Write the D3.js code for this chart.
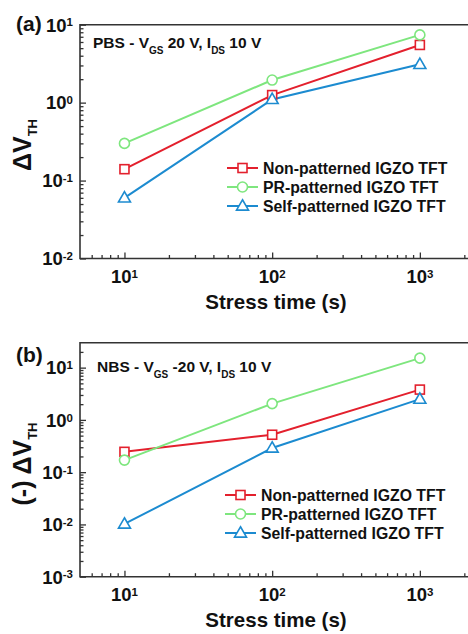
<!DOCTYPE html>
<html><head><meta charset="utf-8">
<script src="https://cdn.jsdelivr.net/npm/d3@7"></script>
<style>
html,body{margin:0;padding:0;background:#fff;}
svg{display:block;font-family:"Liberation Sans",Arial,sans-serif;font-weight:bold;}
</style></head>
<body>
<svg id="c" width="468" height="634"></svg>
<script>
const times = [10, 100, 1000];
const seriesNames = ["Non-patterned IGZO TFT", "PR-patterned IGZO TFT", "Self-patterned IGZO TFT"];
const seriesColors = ["#e3202d", "#7ee67e", "#1c8bd0"];
const seriesMarkers = ["square", "circle", "triangle"];
// Panel (a): PBS
const pbsNon = [0.14, 1.25, 5.5];
const pbsPR = [0.30, 1.95, 7.4];
const pbsSelf = [0.06, 1.1, 3.1];
// Panel (b): NBS
const nbsNon = [0.245, 0.52, 3.8];
const nbsPR = [0.17, 2.05, 15.2];
const nbsSelf = [0.0102, 0.29, 2.5];
const xTicks = [10, 100, 1000];
const yTicksA = [0.01, 0.1, 1, 10];
const yTicksB = [0.001, 0.01, 0.1, 1, 10];

const svg = d3.select("#c");

function minorTicks(lo, hi) {
  const out = [];
  for (let e = Math.floor(Math.log10(lo)); e <= Math.ceil(Math.log10(hi)); e++) {
    for (let k = 2; k <= 9; k++) {
      const v = k * Math.pow(10, e);
      if (v > lo && v < hi) out.push(v);
    }
  }
  return out;
}

function marker(g, type, color, x, y) {
  if (type === "square") {
    g.append("rect").attr("x", x - 4.5).attr("y", y - 4.5).attr("width", 9).attr("height", 9)
      .attr("fill", "#fff").attr("stroke", color).attr("stroke-width", 1.6);
  } else if (type === "circle") {
    g.append("circle").attr("cx", x).attr("cy", y).attr("r", 5)
      .attr("fill", "#fff").attr("stroke", color).attr("stroke-width", 1.6);
  } else {
    const s = 12, h = s * 0.866;
    g.append("path").attr("d", `M${x},${y - h * 0.6}L${x + s / 2},${y + h * 0.4}L${x - s / 2},${y + h * 0.4}Z`)
      .attr("fill", "#fff").attr("stroke", color).attr("stroke-width", 1.6);
  }
}

function powLabel(sel, v, anchor) {
  const e = Math.round(Math.log10(v));
  sel.attr("text-anchor", anchor);
  sel.append("tspan").text("10");
  sel.append("tspan").attr("dy", "-0.45em").attr("font-size", "0.62em").text(e);
}

function panel(opt) {
  const g = svg.append("g");
  const x = d3.scaleLog().domain([5, 3000]).range([80, 80 + Math.log10(600) * 147.7]);
  const y = d3.scaleLog().domain(opt.yDomain).range([opt.bottom, opt.top]);
  const xr = x.range(), yr = y.range();

  // frame
  g.append("path").attr("d", `M${xr[1]},${yr[1]}H${xr[0]}V${yr[0]}H${xr[1]}`)
    .attr("fill", "none").attr("stroke", "#333").attr("stroke-width", 1.6);

  // x ticks
  const xMajor = d3.axisBottom(x).tickValues(xTicks).tickSize(-6).tickFormat("");
  const xMinor = d3.axisBottom(x).tickValues(minorTicks(5, 3000)).tickSize(-3.5).tickFormat("");
  [xMajor, xMinor].forEach(ax => {
    const a = g.append("g").attr("transform", `translate(0,${yr[0]})`).call(ax);
    a.select(".domain").remove();
    a.selectAll("line").attr("stroke", "#333").attr("stroke-width", 1.3);
  });
  xTicks.forEach(v => {
    g.append("text").attr("x", x(v)).attr("y", yr[0] + 24.5).attr("font-size", 18.5)
      .attr("fill", "#111").call(s => powLabel(s, v, "middle"));
  });

  // y ticks
  const yMajor = d3.axisLeft(y).tickValues(opt.yTicks).tickSize(-6).tickFormat("");
  const yMinor = d3.axisLeft(y).tickValues(minorTicks(opt.yDomain[0], opt.yDomain[1])).tickSize(-3.5).tickFormat("");
  [yMajor, yMinor].forEach(ax => {
    const a = g.append("g").attr("transform", `translate(${xr[0]},0)`).call(ax);
    a.select(".domain").remove();
    a.selectAll("line").attr("stroke", "#333").attr("stroke-width", 1.3);
  });
  opt.yTicks.forEach(v => {
    g.append("text").attr("x", 73).attr("y", y(v) + 6.8).attr("font-size", 18.5)
      .attr("fill", "#111").call(s => powLabel(s, v, "end"));
  });

  // series
  const line = d3.line().x((d, i) => x(times[i])).y(d => y(d));
  opt.data.forEach((vals, si) => {
    g.append("path").attr("d", line(vals)).attr("fill", "none")
      .attr("stroke", seriesColors[si]).attr("stroke-width", 2);
  });
  opt.data.forEach((vals, si) => {
    vals.forEach((v, i) => marker(g, seriesMarkers[si], seriesColors[si], x(times[i]), y(v)));
  });

  // legend
  seriesNames.forEach((n, si) => {
    const ly = opt.legendY + si * 19;
    g.append("line").attr("x1", opt.legendX).attr("x2", opt.legendX + 31).attr("y1", ly).attr("y2", ly)
      .attr("stroke", seriesColors[si]).attr("stroke-width", 2);
    marker(g, seriesMarkers[si], seriesColors[si], opt.legendX + 15.5, ly);
    g.append("text").attr("x", opt.legendX + 36).attr("y", ly + 5.5).attr("font-size", 15.8)
      .attr("fill", "#111").text(n);
  });

  // condition text
  const t = g.append("text").attr("x", opt.condX).attr("y", opt.condY).attr("font-size", 15.5).attr("fill", "#111");
  opt.cond.forEach(p => {
    if (p.sub) t.append("tspan").attr("dy", 6).attr("font-size", 10).text(p.t);
    else t.append("tspan").attr("dy", p.after ? -6 : 0).text(p.t);
  });

  // panel letter
  g.append("text").attr("x", 16).attr("y", opt.letterY).attr("font-size", 21).attr("fill", "#111").text(opt.letter);

  // y label
  const yl = g.append("text").attr("transform", `translate(31,${opt.yLabelY}) rotate(-90)`)
    .attr("text-anchor", "middle").attr("font-size", 25).attr("fill", "#111");
  yl.append("tspan").text(opt.yLabel);
  yl.append("tspan").attr("dy", 6).attr("font-size", 13).text("TH");

  // x label
  g.append("text").attr("x", 276).attr("y", yr[0] + 50).attr("text-anchor", "middle")
    .attr("font-size", 20.5).attr("fill", "#111").text("Stress time (s)");
}

panel({
  yDomain: [0.01, 10], top: 24.7, bottom: 258.5, yTicks: yTicksA,
  data: [pbsNon, pbsPR, pbsSelf],
  legendX: 227, legendY: 168,
  condX: 93, condY: 48,
  cond: [{t: "PBS - V"}, {t: "GS", sub: true}, {t: " 20 V, I", after: true}, {t: "DS", sub: true}, {t: " 10 V", after: true}],
  letter: "(a)", letterY: 31,
  yLabel: "\u0394V", yLabelY: 145
});

panel({
  yDomain: [0.001, 30], top: 342.7, bottom: 576.7, yTicks: yTicksB,
  data: [nbsNon, nbsPR, nbsSelf],
  legendX: 225, legendY: 495,
  condX: 97, condY: 372,
  cond: [{t: "NBS - V"}, {t: "GS", sub: true}, {t: " -20 V, I", after: true}, {t: "DS", sub: true}, {t: " 10 V", after: true}],
  letter: "(b)", letterY: 362,
  yLabel: "(-) \u0394V", yLabelY: 464
});
</script>
</body></html>
